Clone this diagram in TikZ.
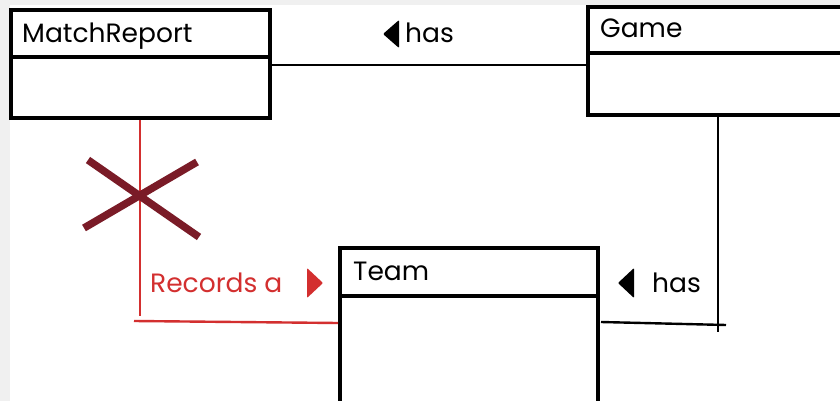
\documentclass[tikz,border=0pt]{standalone}
\usepackage{fontspec}
\setmainfont{Poppins}
\usetikzlibrary{calc}
\definecolor{bggray}{HTML}{F0F0F0}
\definecolor{redc}{HTML}{D32F2F}
\definecolor{darkred}{HTML}{7A1B27}
\begin{document}
\begin{tikzpicture}[x=1pt,y=-1pt,
  box/.style={draw=black, line width=3.4pt, fill=white, inner sep=0pt, outer sep=0pt, anchor=north west},
  title/.style={anchor=base west, inner sep=0pt, font=\fontsize{26.5}{30}\selectfont},
  link/.style={draw=black, line width=2.4pt},
  redlink/.style={draw=redc, line width=2.4pt},
  xstroke/.style={draw=darkred, line width=7.5pt},
  tri/.style={line join=round, rounded corners=1pt}]
\useasboundingbox (0,0) rectangle (840,401);
\clip (0,0) rectangle (840,401);
\fill[bggray] (0,0) rectangle (840,401);
\fill[white] (10,5) rectangle (840,401);
% class boxes
\node[box, minimum width=259pt, minimum height=47pt] (mrT) at (11,10) {};
\node[box, minimum width=259pt, minimum height=61pt] (mrB) at (11,57) {};
\node[box, minimum width=280pt, minimum height=46pt] (gameT) at (588,7) {};
\node[box, minimum width=280pt, minimum height=62pt] (gameB) at (588,53) {};
\node[box, minimum width=258pt, minimum height=48pt] (teamT) at (340,248) {};
\node[box, minimum width=258pt, minimum height=130pt] (teamB) at (340,296) {};
\node[title] (mrL) at (22,43) {MatchReport};
\node[title] (gameL) at (600,38) {Game};
\node[title] (teamL) at (353,280) {Team};
% MatchReport -- Game
\draw[link] ($(mrB.north east)+(2,8)$) -- ($(gameB.north west)+(-2,12)$);
% Game -- Team
\coordinate (gt) at ($(gameB.south west)+(130,2)$);
\coordinate (c2) at (718,323);
\draw[link] (gt) -- ($(c2)+(0,9)$);
\draw[link] ($(teamB.north east)+(3,26)$) -- ($(c2)+(8,2)$);
% MatchReport -- Team (red)
\coordinate (rt) at ($(mrB.south west)+(129,2)$);
\coordinate (c1) at (140,322);
\draw[redlink] (rt) -- ($(c1)+(0,-6)$);
\draw[redlink] ($(c1)+(-6,-1)$) -- ($(teamB.north west)+(-2,27)$);
% cross
\draw[xstroke] (88,160) -- (199,237);
\draw[xstroke] (84,228) -- (197,162);
% labels
\fill[tri] (399,20) -- (383,34) -- (399,48) -- cycle;
\node[title] (has1) at (405,43) {has};
\fill[tri] (634,268) -- (618,283) -- (634,298) -- cycle;
\node[title] (has2) at (652,292) {has};
\fill[tri, redc] (307,268) -- (323,283) -- (307,298) -- cycle;
\node[title, text=redc] (rec) at (150,292) {Records a};
\end{tikzpicture}
\end{document}
